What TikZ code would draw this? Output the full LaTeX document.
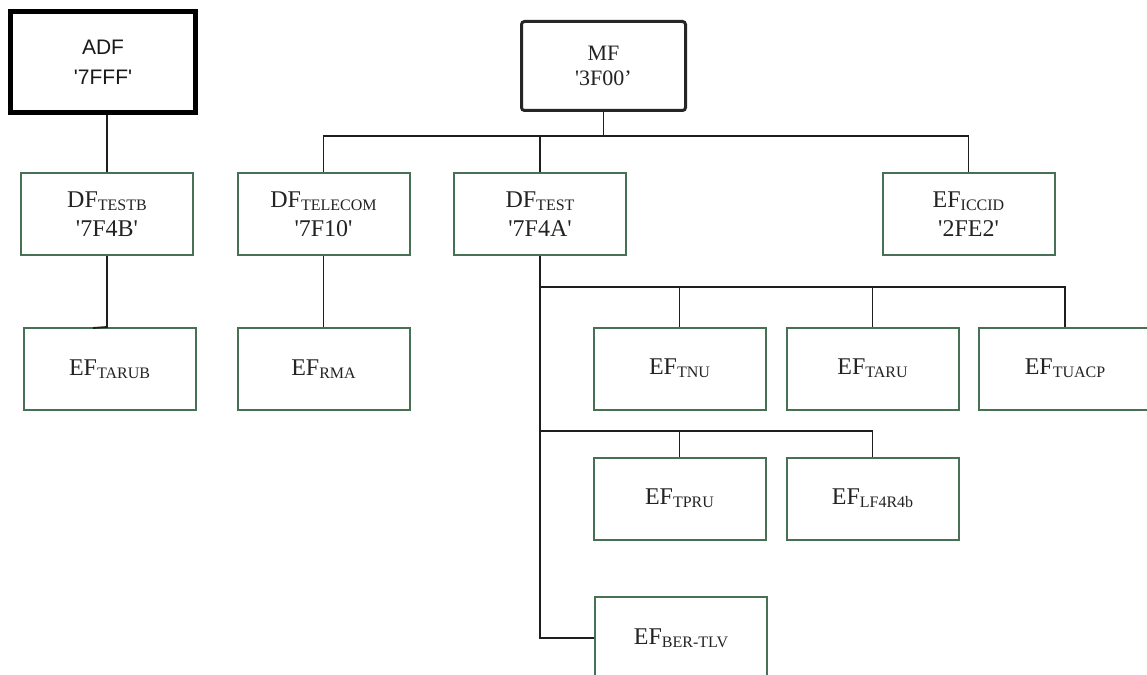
\documentclass[tikz,border=0pt]{standalone}
\usepackage{fontspec}
\setmainfont{Liberation Serif}[Ligatures=TeXOff]
\newfontfamily\adffont{Liberation Sans}[Ligatures=TeXOff]
\definecolor{boxgreen}{RGB}{72,112,84}
\definecolor{linegray}{RGB}{30,30,30}
\definecolor{txt}{RGB}{35,35,35}
\newcommand{\subs}[1]{\raisebox{-3pt}{\fontsize{16}{16}\selectfont #1}}
\begin{document}
\begin{tikzpicture}[x=1pt,y=-1pt,
  file/.style={draw=boxgreen, line width=2pt, minimum width=172pt, minimum height=82pt,
    inner sep=0pt, align=center, text=txt, font=\fontsize{24}{29}\selectfont},
  adfbox/.style={draw=black, line width=5pt, minimum width=185pt, minimum height=101pt,
    inner sep=0pt, align=center, text=black!90, font=\adffont\fontsize{21}{30}\selectfont},
  mfbox/.style={draw=black!85, line width=3pt, rounded corners=3pt, minimum width=164pt,
    minimum height=89pt, inner sep=0pt, align=center, text=txt, font=\fontsize{22}{25}\selectfont},
  conn/.style={draw=linegray, line width=1.8pt}]
\clip (0,0) rectangle (1147,674);
\fill[white] (0,0) rectangle (1147,674);
% nodes
\node[adfbox] (adf) at (103,62) {\raisebox{-2pt}{ADF}\\\raisebox{-2pt}{'7FFF'}};
\node[mfbox] (mf) at (603.5,66) {\raisebox{-3pt}{MF}\\\raisebox{-3pt}{'3F00’}};
\node[file] (testb) at (107,214) {DF\subs{TESTB}\\'7F4B'};
\node[file] (telecom) at (323.5,214) {DF\subs{TELECOM}\\'7F10'};
\node[file] (test) at (540,214) {DF\subs{TEST}\\'7F4A'};
\node[file] (iccid) at (968.5,214) {EF\subs{ICCID}\\'2FE2'};
\node[file] (tarub) at (109.5,369) {EF\subs{TARUB}};
\node[file] (rma) at (323.5,369) {EF\subs{RMA}};
\node[file] (tnu) at (679.5,368.5) {EF\subs{TNU}};
\node[file] (taru) at (872.5,368.5) {EF\subs{TARU}};
\node[file] (tuacp) at (1065,368.5) {EF\subs{TUACP}};
\node[file] (tpru) at (679.5,498.5) {EF\subs{TPRU}};
\node[file] (lf) at (872.5,498.5) {EF\subs{LF4R4b}};
\node[file] (ber) at (681,638) {EF\subs{BER-TLV}};
% bus coordinates
\coordinate (bus0) at (603,136);
\coordinate (bus1) at (540,287);
\coordinate (bus2) at (540,431);
\coordinate (hook) at (93,328);
% connectors
\draw[conn] (testb.north) -- (testb.north |- adf.south);
\draw[conn] (testb.south) -- (testb.south |- tarub.north) -- (hook);
\draw[conn] (telecom.south) -- (rma.north);
\draw[conn] (mf.south) -- (mf.south |- bus0);
\draw[conn] (telecom.north) -- (telecom.north |- bus0) -- (iccid.north |- bus0) -- (iccid.north);
\draw[conn] (test.north) -- (test.north |- bus0);
\draw[conn] (test.south) -- (test.south |- ber.west) -- (ber.west);
\draw[conn] (test.south |- bus1) -- (tuacp.north |- bus1) -- (tuacp.north);
\draw[conn] (tnu.north) -- (tnu.north |- bus1);
\draw[conn] (taru.north) -- (taru.north |- bus1);
\draw[conn] (test.south |- bus2) -- (lf.north |- bus2) -- (lf.north);
\draw[conn] (tpru.north) -- (tpru.north |- bus2);
\end{tikzpicture}
\end{document}
